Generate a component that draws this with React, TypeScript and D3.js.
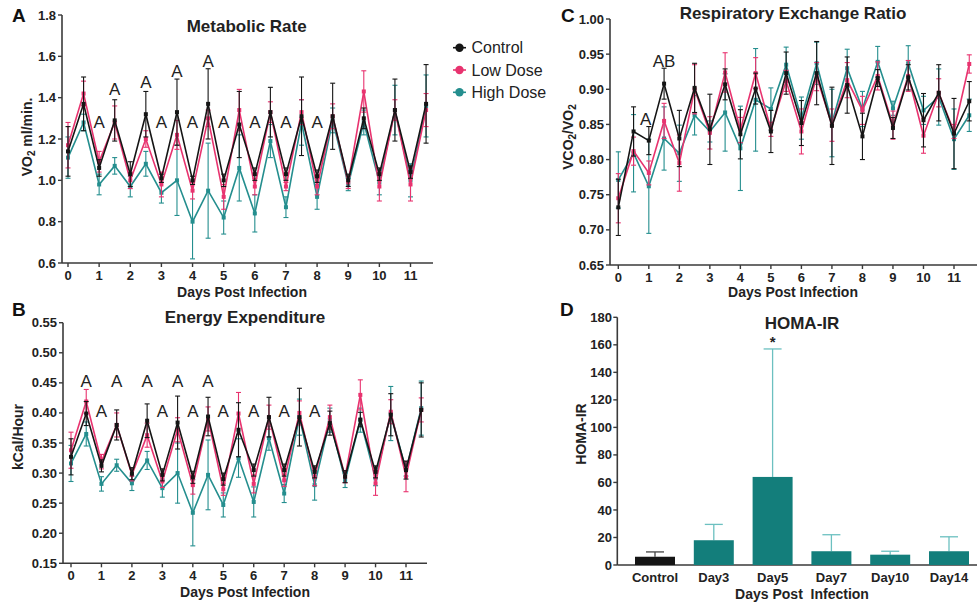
import React from "react";
import * as d3 from "d3";

const FONT = "'Liberation Sans', Arial, Helvetica, sans-serif";

const days = [0, 0.5, 1, 1.5, 2, 2.5, 3, 3.5, 4, 4.5, 5, 5.5, 6, 6.5, 7, 7.5, 8, 8.5, 9, 9.5, 10, 10.5, 11, 11.5];
const dayTicks = [0, 1, 2, 3, 4, 5, 6, 7, 8, 9, 10, 11];

// Panel A: Metabolic rate (VO2)
const vo2Control = [1.14, 1.37, 1.06, 1.29, 1.03, 1.32, 1.01, 1.33, 1.0, 1.37, 1.0, 1.27, 1.03, 1.33, 1.03, 1.31, 1.02, 1.31, 1.0, 1.3, 1.03, 1.34, 1.04, 1.37];
const vo2ControlErr = [0.12, 0.13, 0.04, 0.1, 0.06, 0.11, 0.02, 0.16, 0.02, 0.17, 0.03, 0.16, 0.03, 0.12, 0.03, 0.19, 0.03, 0.16, 0.03, 0.05, 0.03, 0.15, 0.03, 0.19];
const vo2Low = [1.17, 1.42, 1.09, 1.28, 1.0, 1.2, 0.98, 1.22, 0.95, 1.3, 0.92, 1.34, 0.97, 1.33, 0.97, 1.33, 0.97, 1.31, 0.99, 1.43, 0.97, 1.34, 0.98, 1.34];
const vo2LowErr = [0.11, 0.06, 0.05, 0.08, 0.04, 0.04, 0.06, 0.07, 0.04, 0.04, 0.06, 0.1, 0.04, 0.05, 0.02, 0.06, 0.04, 0.06, 0.03, 0.1, 0.07, 0.05, 0.08, 0.08];
const vo2High = [1.11, 1.28, 0.98, 1.07, 0.97, 1.08, 0.94, 1.0, 0.8, 0.95, 0.82, 1.06, 0.84, 1.19, 0.87, 1.28, 0.92, 1.29, 0.98, 1.28, 0.99, 1.34, 1.0, 1.36];
const vo2HighErr = [0.1, 0.04, 0.05, 0.04, 0.05, 0.06, 0.05, 0.17, 0.18, 0.23, 0.08, 0.16, 0.09, 0.08, 0.05, 0.11, 0.06, 0.06, 0.03, 0.06, 0.06, 0.12, 0.08, 0.15];
const vo2Ticks = [0.6, 0.8, 1.0, 1.2, 1.4, 1.6, 1.8];
const vo2Marks = [
  { day: 1, v: 1.253, t: "A" }, { day: 3, v: 1.253, t: "A" }, { day: 4, v: 1.253, t: "A" },
  { day: 5, v: 1.253, t: "A" }, { day: 6, v: 1.253, t: "A" }, { day: 7, v: 1.253, t: "A" },
  { day: 8, v: 1.253, t: "A" }, { day: 1.5, v: 1.413, t: "A" }, { day: 2.5, v: 1.445, t: "A" },
  { day: 3.5, v: 1.5, t: "A" }, { day: 4.5, v: 1.55, t: "A" },
];

// Panel B: Energy expenditure
const eeControl = [0.327, 0.399, 0.312, 0.38, 0.299, 0.387, 0.297, 0.384, 0.293, 0.394, 0.29, 0.372, 0.305, 0.393, 0.305, 0.393, 0.302, 0.383, 0.294, 0.389, 0.302, 0.397, 0.305, 0.405];
const eeControlErr = [0.03, 0.02, 0.01, 0.025, 0.01, 0.028, 0.01, 0.044, 0.01, 0.032, 0.01, 0.045, 0.01, 0.033, 0.01, 0.048, 0.01, 0.02, 0.01, 0.012, 0.01, 0.035, 0.015, 0.045];
const eeLow = [0.338, 0.419, 0.319, 0.38, 0.297, 0.363, 0.286, 0.372, 0.28, 0.39, 0.273, 0.399, 0.282, 0.393, 0.288, 0.4, 0.294, 0.393, 0.294, 0.43, 0.283, 0.402, 0.294, 0.405];
const eeLowErr = [0.03, 0.02, 0.012, 0.02, 0.01, 0.02, 0.01, 0.02, 0.015, 0.02, 0.01, 0.035, 0.015, 0.02, 0.01, 0.02, 0.015, 0.02, 0.01, 0.025, 0.02, 0.02, 0.025, 0.02];
const eeHigh = [0.316, 0.365, 0.282, 0.313, 0.283, 0.321, 0.275, 0.3, 0.234, 0.297, 0.247, 0.325, 0.252, 0.358, 0.266, 0.393, 0.28, 0.388, 0.288, 0.388, 0.291, 0.399, 0.305, 0.408];
const eeHighErr = [0.03, 0.02, 0.012, 0.01, 0.012, 0.015, 0.015, 0.05, 0.055, 0.058, 0.02, 0.032, 0.025, 0.02, 0.015, 0.03, 0.025, 0.02, 0.012, 0.02, 0.012, 0.045, 0.01, 0.045];
const eeTicks = [0.15, 0.2, 0.25, 0.3, 0.35, 0.4, 0.45, 0.5, 0.55];
const eeMarks = [
  { day: 0.5, v: 0.4436, t: "A" }, { day: 1.5, v: 0.4436, t: "A" }, { day: 2.5, v: 0.4436, t: "A" },
  { day: 3.5, v: 0.4436, t: "A" }, { day: 4.5, v: 0.4436, t: "A" },
  { day: 1, v: 0.3932, t: "A" }, { day: 3, v: 0.3932, t: "A" }, { day: 4, v: 0.3932, t: "A" },
  { day: 5, v: 0.3932, t: "A" }, { day: 6, v: 0.3932, t: "A" }, { day: 7, v: 0.3932, t: "A" },
  { day: 8, v: 0.3932, t: "A" },
];

// Panel C: Respiratory exchange ratio
const rerControl = [0.732, 0.84, 0.827, 0.908, 0.83, 0.902, 0.843, 0.907, 0.836, 0.901, 0.84, 0.923, 0.852, 0.923, 0.848, 0.906, 0.833, 0.916, 0.845, 0.917, 0.856, 0.895, 0.837, 0.883];
const rerControlErr = [0.04, 0.035, 0.02, 0.022, 0.04, 0.035, 0.05, 0.022, 0.035, 0.022, 0.03, 0.03, 0.032, 0.045, 0.055, 0.04, 0.033, 0.012, 0.015, 0.018, 0.038, 0.04, 0.05, 0.028];
const rerLow = [0.745, 0.812, 0.781, 0.855, 0.795, 0.9, 0.838, 0.924, 0.842, 0.923, 0.843, 0.912, 0.84, 0.918, 0.849, 0.913, 0.87, 0.919, 0.849, 0.919, 0.834, 0.895, 0.84, 0.936];
const rerLowErr = [0.035, 0.02, 0.017, 0.025, 0.04, 0.035, 0.023, 0.028, 0.018, 0.022, 0.01, 0.015, 0.032, 0.02, 0.023, 0.025, 0.02, 0.02, 0.02, 0.022, 0.025, 0.02, 0.01, 0.013];
const rerHigh = [0.771, 0.809, 0.762, 0.83, 0.809, 0.863, 0.84, 0.867, 0.816, 0.885, 0.872, 0.935, 0.859, 0.937, 0.852, 0.93, 0.872, 0.939, 0.873, 0.937, 0.87, 0.889, 0.829, 0.863];
const rerHighErr = [0.04, 0.055, 0.067, 0.045, 0.04, 0.028, 0.015, 0.055, 0.06, 0.073, 0.03, 0.025, 0.03, 0.03, 0.048, 0.027, 0.025, 0.022, 0.01, 0.025, 0.02, 0.04, 0.043, 0.023];
const rerTicks = [0.65, 0.7, 0.75, 0.8, 0.85, 0.9, 0.95, 1.0];
const rerMarks = [
  { day: 0.9, v: 0.849, t: "A" },
  { day: 1.5, v: 0.932, t: "AB" },
];

// Panel D: HOMA-IR
const homaGroups = ["Control", "Day3", "Day5", "Day7", "Day10", "Day14"];
const homaMean = [6, 18, 64, 10, 7.5, 10];
const homaErr = [3.5, 11.5, 93, 12, 2.5, 10.5];
const homaTicks = [0, 20, 40, 60, 80, 100, 120, 140, 160, 180];

const legendNames = ["Control", "Low Dose", "High Dose"];

const BLACK = "#151515";
const PINK = "#e8336f";
const TEAL = "#248e8e";
const BAR_TEAL = "#137e7b";
const AXIS = "#3a3a3a";

type Series = { values: number[]; errs: number[]; color: string };

function LinePanel(props: {
  x: d3.ScaleLinear<number, number>;
  y: d3.ScaleLinear<number, number>;
  yTicks: number[];
  fmt: (v: number) => string;
  series: Series[];
  marks: { day: number; v: number; t: string }[];
}) {
  const { x, y, yTicks, fmt, series, marks } = props;
  const [x0, x1] = x.range();
  const [y0] = y.range();
  const line = d3
    .line<number>()
    .x((_, i) => x(days[i]))
    .y((d) => y(d));
  return (
    <g>
      <line x1={x0} x2={x0} y1={y.range()[1]} y2={y0} stroke={AXIS} strokeWidth={1.6} />
      <line x1={x0} x2={x1} y1={y0} y2={y0} stroke={AXIS} strokeWidth={1.6} />
      {yTicks.map((t) => (
        <g key={"y" + t}>
          <line x1={x0 - 4} x2={x0} y1={y(t)} y2={y(t)} stroke={AXIS} strokeWidth={1.4} />
          <text x={x0 - 6} y={y(t)} dy="0.35em" textAnchor="end" fontSize={13} fontWeight="bold" fill="#222">
            {fmt(t)}
          </text>
        </g>
      ))}
      {dayTicks.map((t) => (
        <g key={"x" + t}>
          <line x1={x(t)} x2={x(t)} y1={y0} y2={y0 + 4} stroke={AXIS} strokeWidth={1.4} />
          <text x={x(t)} y={y0 + 17} textAnchor="middle" fontSize={13} fontWeight="bold" fill="#222">
            {t}
          </text>
        </g>
      ))}
      {series.map((s, si) => (
        <g key={"s" + si}>
          {s.values.map((v, i) => {
            const cx = x(days[i]);
            const yt = y(v + s.errs[i]);
            const yb = y(v - s.errs[i]);
            return (
              <g key={i} stroke={s.color} strokeWidth={1.1}>
                <line x1={cx} x2={cx} y1={yt} y2={yb} />
                <line x1={cx - 2.5} x2={cx + 2.5} y1={yt} y2={yt} />
                <line x1={cx - 2.5} x2={cx + 2.5} y1={yb} y2={yb} />
              </g>
            );
          })}
          <path d={line(s.values) || ""} fill="none" stroke={s.color} strokeWidth={1.6} />
          {s.values.map((v, i) => (
            <rect key={"m" + i} x={x(days[i]) - 2} y={y(v) - 2} width={4} height={4} fill={s.color} />
          ))}
        </g>
      ))}
      {marks.map((m, i) => (
        <text key={"a" + i} x={x(m.day)} y={y(m.v)} textAnchor="middle" fontSize={17} fill="#222">
          {m.t}
        </text>
      ))}
    </g>
  );
}

export default function App() {
  const xA0 = d3.scaleLinear().domain([0, 11]).range([68, 410.5]);
  const xA = xA0.copy().domain([xA0.invert(62), xA0.invert(433)]).range([62, 433]);
  const yA = d3.scaleLinear().domain([0.6, 1.8]).range([263, 15]);

  const xB0 = d3.scaleLinear().domain([0, 11]).range([71, 406]);
  const xB = xB0.copy().domain([xB0.invert(63), xB0.invert(427)]).range([63, 427]);
  const yB = d3.scaleLinear().domain([0.15, 0.55]).range([563.3, 322.7]);

  const xC0 = d3.scaleLinear().domain([0, 11]).range([618.3, 954]);
  const xC = xC0.copy().domain([xC0.invert(610), xC0.invert(977)]).range([610, 977]);
  const yC = d3.scaleLinear().domain([0.65, 1.0]).range([265, 19]);

  const xD = d3.scaleBand<string>().domain(homaGroups).range([625.6, 978.4]).paddingInner(0.32).paddingOuter(0.16);
  const yD = d3.scaleLinear().domain([0, 180]).range([565, 317.3]);

  const f1 = d3.format(".1f");
  const f2 = d3.format(".2f");

  const sA: Series[] = [
    { values: vo2High, errs: vo2HighErr, color: TEAL },
    { values: vo2Low, errs: vo2LowErr, color: PINK },
    { values: vo2Control, errs: vo2ControlErr, color: BLACK },
  ];
  const sB: Series[] = [
    { values: eeHigh, errs: eeHighErr, color: TEAL },
    { values: eeLow, errs: eeLowErr, color: PINK },
    { values: eeControl, errs: eeControlErr, color: BLACK },
  ];
  const sC: Series[] = [
    { values: rerHigh, errs: rerHighErr, color: TEAL },
    { values: rerLow, errs: rerLowErr, color: PINK },
    { values: rerControl, errs: rerControlErr, color: BLACK },
  ];
  const legendColors = [BLACK, PINK, TEAL];

  return (
    <svg width={979} height={604} style={{ position: "absolute", left: 0, top: 0, background: "#fff" }} fontFamily={FONT}>
      <rect x={0} y={0} width={979} height={604} fill="#fff" />

      {/* Panel A */}
      <text x={12} y={22} fontSize={19} fontWeight="bold" fill="#111">A</text>
      <text x={246.7} y={31.5} textAnchor="middle" fontSize={17} fontWeight="bold" fill="#222">Metabolic Rate</text>
      <text transform="translate(27,137) rotate(-90)" textAnchor="middle" dominantBaseline="central" fontSize={14} fontWeight="bold" fill="#222">
        VO<tspan fontSize={10} dy={4}>2</tspan><tspan dy={-4}> ml/min.</tspan>
      </text>
      <LinePanel x={xA} y={yA} yTicks={vo2Ticks} fmt={f1} series={sA} marks={vo2Marks} />
      <text x={242} y={297} textAnchor="middle" fontSize={14} fontWeight="bold" fill="#222">Days Post Infection</text>

      {/* Legend */}
      {legendNames.map((n, i) => (
        <g key={n}>
          <line x1={453} x2={466} y1={47.7 + i * 22.3} y2={47.7 + i * 22.3} stroke={legendColors[i]} strokeWidth={1.6} />
          <circle cx={459.5} cy={47.7 + i * 22.3} r={4.2} fill={legendColors[i]} />
          <text x={471.5} y={47.7 + i * 22.3} dy="0.35em" fontSize={16} fill="#222">{n}</text>
        </g>
      ))}

      {/* Panel B */}
      <text x={12} y={316} fontSize={19} fontWeight="bold" fill="#111">B</text>
      <text x={245} y={323} textAnchor="middle" fontSize={17} fontWeight="bold" fill="#222">Energy Expenditure</text>
      <text transform="translate(18,437) rotate(-90)" textAnchor="middle" dominantBaseline="central" fontSize={14} fontWeight="bold" fill="#222">kCal/Hour</text>
      <LinePanel x={xB} y={yB} yTicks={eeTicks} fmt={f2} series={sB} marks={eeMarks} />
      <text x={245} y={597} textAnchor="middle" fontSize={14} fontWeight="bold" fill="#222">Days Post Infection</text>

      {/* Panel C */}
      <text x={561} y={22} fontSize={19} fontWeight="bold" fill="#111">C</text>
      <text x={793} y={19} textAnchor="middle" fontSize={17} fontWeight="bold" fill="#222">Respiratory Exchange Ratio</text>
      <text transform="translate(568,137) rotate(-90)" textAnchor="middle" dominantBaseline="central" fontSize={14} fontWeight="bold" fill="#222">
        VCO<tspan fontSize={10} dy={4}>2</tspan><tspan dy={-4}>/VO</tspan><tspan fontSize={10} dy={4}>2</tspan>
      </text>
      <LinePanel x={xC} y={yC} yTicks={rerTicks} fmt={f2} series={sC} marks={rerMarks} />
      <text x={793} y={297} textAnchor="middle" fontSize={14} fontWeight="bold" fill="#222">Days Post Infection</text>

      {/* Panel D */}
      <text x={560} y={316} fontSize={19} fontWeight="bold" fill="#111">D</text>
      <text x={802} y={329} textAnchor="middle" fontSize={17} fontWeight="bold" fill="#222">HOMA-IR</text>
      <text transform="translate(581,434) rotate(-90)" textAnchor="middle" dominantBaseline="central" fontSize={14} fontWeight="bold" fill="#222">HOMA-IR</text>
      <g>
        <line x1={617.3} x2={617.3} y1={317.3} y2={565} stroke={AXIS} strokeWidth={1.6} />
        <line x1={617.3} x2={977} y1={565} y2={565} stroke={AXIS} strokeWidth={1.6} />
        {homaTicks.map((t) => (
          <g key={"hy" + t}>
            <line x1={613.3} x2={617.3} y1={yD(t)} y2={yD(t)} stroke={AXIS} strokeWidth={1.4} />
            <text x={612} y={yD(t)} dy="0.35em" textAnchor="end" fontSize={13} fontWeight="bold" fill="#222">{t}</text>
          </g>
        ))}
        {homaGroups.map((g, i) => {
          const bx = xD(g) as number;
          const bw = xD.bandwidth();
          const cx = bx + bw / 2;
          const errColor = i === 0 ? "#444" : "#6cc0c0";
          return (
            <g key={g}>
              <line x1={cx} x2={cx} y1={yD(homaMean[i])} y2={yD(homaMean[i] + homaErr[i])} stroke={errColor} strokeWidth={1.3} />
              <line x1={cx - 9} x2={cx + 9} y1={yD(homaMean[i] + homaErr[i])} y2={yD(homaMean[i] + homaErr[i])} stroke={errColor} strokeWidth={1.3} />
              <rect x={bx} y={yD(homaMean[i])} width={bw} height={yD(0) - yD(homaMean[i])} fill={i === 0 ? BLACK : BAR_TEAL} />
              <text x={cx} y={582} textAnchor="middle" fontSize={13} fontWeight="bold" fill="#222">{g}</text>
            </g>
          );
        })}
        <text x={(xD("Day5") as number) + xD.bandwidth() / 2} y={347} textAnchor="middle" fontSize={15} fontWeight="bold" fill="#222">*</text>
      </g>
      <text x={802} y={599} textAnchor="middle" fontSize={14} fontWeight="bold" fill="#222" style={{ whiteSpace: "pre" }}>Days Post  Infection</text>
    </svg>
  );
}
